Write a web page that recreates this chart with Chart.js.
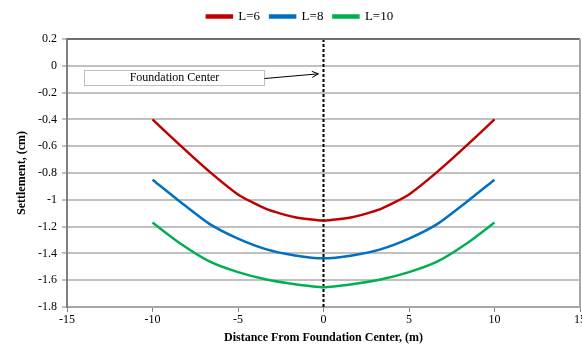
<!DOCTYPE html>
<html>
<head>
<meta charset="utf-8">
<script src="https://cdn.jsdelivr.net/npm/chart.js@4.4.0/dist/chart.umd.min.js"></script>
<style>
html,body{margin:0;padding:0;background:#fff;}
#wrap{width:582px;height:345px;}
</style>
</head>
<body>
<div id="wrap"><canvas id="c" width="582" height="345"></canvas></div>
<script>
// ---- data ----
const distances = [-10, -8.33, -6.67, -5, -3.33, -1.67, 0, 1.67, 3.33, 5, 6.67, 8.33, 10];
const settlementL6  = [-0.40, -0.60, -0.79, -0.96, -1.07, -1.13, -1.155, -1.13, -1.07, -0.96, -0.79, -0.60, -0.40];
const settlementL8  = [-0.85, -1.02, -1.18, -1.29, -1.37, -1.415, -1.437, -1.415, -1.37, -1.29, -1.18, -1.02, -0.85];
const settlementL10 = [-1.17, -1.33, -1.46, -1.54, -1.595, -1.63, -1.652, -1.63, -1.595, -1.54, -1.46, -1.33, -1.17];
const seriesNames = ['L=6', 'L=8', 'L=10'];
const centerLineX = [0, 0];
const centerLineY = [0.2, -1.8];
const annotationText = 'Foundation Center';

// ---- annotation geometry (in data units) ----
const noteBox = {x0: -13.98, x1: -3.45, y0: -0.03, y1: -0.14};
const noteArrow = {x0: -3.45, y0: -0.095, x1: -0.3, y1: -0.06};

const FONT = "'Liberation Serif', 'DejaVu Serif', serif";

function pts(xs, ys){ return xs.map((x,i)=>({x:x, y:ys[i]})); }

const annotationPlugin = {
  id: 'annot',
  afterDatasetsDraw(chart){
    const {ctx, scales:{x, y}, chartArea} = chart;
    ctx.save();
    // plot border top & right
    ctx.strokeStyle = '#6f6f6f';
    ctx.lineWidth = 2;
    ctx.beginPath();
    ctx.moveTo(chartArea.left, chartArea.top);
    ctx.lineTo(chartArea.right, chartArea.top);
    ctx.stroke();
    ctx.strokeStyle = '#a6a6a6';
    ctx.beginPath();
    ctx.moveTo(chartArea.right, chartArea.top);
    ctx.lineTo(chartArea.right, chartArea.bottom);
    ctx.stroke();
    // box
    const bx0 = x.getPixelForValue(noteBox.x0), bx1 = x.getPixelForValue(noteBox.x1);
    const by0 = y.getPixelForValue(noteBox.y0), by1 = y.getPixelForValue(noteBox.y1);
    ctx.fillStyle = '#ffffff';
    ctx.fillRect(bx0, by0, bx1-bx0, by1-by0);
    ctx.strokeStyle = '#bfbfbf';
    ctx.lineWidth = 1;
    ctx.strokeRect(Math.round(bx0)+0.5, Math.round(by0)+0.5, Math.round(bx1-bx0), Math.round(by1-by0));
    ctx.fillStyle = '#000';
    ctx.font = "12px " + FONT;
    ctx.textAlign = 'center';
    ctx.textBaseline = 'middle';
    ctx.fillText(annotationText, (bx0+bx1)/2, (by0+by1)/2 + 0.5);
    // arrow
    const ax0 = x.getPixelForValue(noteArrow.x0), ay0 = y.getPixelForValue(noteArrow.y0);
    const ax1 = x.getPixelForValue(noteArrow.x1), ay1 = y.getPixelForValue(noteArrow.y1);
    ctx.strokeStyle = '#000';
    ctx.lineWidth = 1;
    ctx.beginPath();
    ctx.moveTo(ax0, ay0);
    ctx.lineTo(ax1, ay1);
    ctx.stroke();
    const ang = Math.atan2(ay1-ay0, ax1-ax0);
    const L = 7;
    ctx.beginPath();
    ctx.moveTo(ax1 - L*Math.cos(ang - 0.45), ay1 - L*Math.sin(ang - 0.45));
    ctx.lineTo(ax1, ay1);
    ctx.lineTo(ax1 - L*Math.cos(ang + 0.45), ay1 - L*Math.sin(ang + 0.45));
    ctx.stroke();
    ctx.restore();
  }
};

const colors = ['#C00000', '#0070C0', '#00B050'];
const seriesData = [settlementL6, settlementL8, settlementL10];

const datasets = seriesData.map((vals, i) => ({
  label: seriesNames[i],
  data: pts(distances, vals),
  xAxisID: 'x',
  yAxisID: 'y',
  borderColor: colors[i],
  backgroundColor: colors[i],
  borderWidth: 2.5,
  pointRadius: 0,
  showLine: true,
  tension: 0.2,
  order: 1
}));
datasets.push({
  label: 'center',
  data: pts(centerLineX, centerLineY),
  xAxisID: 'x',
  yAxisID: 'y',
  borderColor: '#000',
  backgroundColor: '#000',
  borderWidth: 2,
  borderDash: [3, 2],
  pointRadius: 0,
  showLine: true,
  order: 2
});

new Chart(document.getElementById('c'), {
  type: 'scatter',
  data: { datasets },
  plugins: [annotationPlugin],
  options: {
    responsive: false,
    animation: false,
    layout: { padding: { left: 20, right: 2, top: 0, bottom: 0 } },
    plugins: {
      legend: {
        position: 'top',
        align: 'center',
        labels: {
          filter: (item) => item.text !== 'center',
          boxWidth: 25,
          boxHeight: 2,
          padding: 10,
          color: '#000',
          font: { family: FONT, size: 13 }
        }
      },
      tooltip: { enabled: false }
    },
    scales: {
      x: {
        type: 'linear',
        position: 'bottom',
        min: -15, max: 15,
        afterFit: (s) => { s.height = 38; s.paddingLeft = 0; s.paddingRight = 0; },
        ticks: { stepSize: 5, color: '#000', font: { family: FONT, size: 12 }, padding: 1, maxRotation: 0, autoSkip: false },
        grid: { drawOnChartArea: false, drawTicks: true, tickLength: 5, color: '#808080', lineWidth: 1 },
        border: { color: '#a6a6a6', width: 2 },
        title: { display: true, text: 'Distance From Foundation Center, (m)', color: '#000', font: { family: FONT, size: 12, weight: 'bold' }, padding: { top: 0, bottom: 0 } }
      },
      y: {
        type: 'linear',
        position: 'left',
        min: -1.8, max: 0.2,
        afterFit: (s) => { s.width = 47; s.paddingBottom = 0; },
        ticks: { stepSize: 0.2, color: '#000', font: { family: FONT, size: 12 }, padding: 5,
          callback: (v) => String(Number(v.toFixed(1))) },
        grid: { drawOnChartArea: true, drawTicks: true, tickLength: 5, color: '#c0c0c0', lineWidth: 2 },
        border: { color: '#7f7f7f', width: 2 },
        title: { display: true, text: 'Settlement, (cm)', color: '#000', font: { family: FONT, size: 12, weight: 'bold' }, padding: { top: -5, bottom: 0 } }
      },
      spacer: {
        type: 'linear',
        axis: 'x',
        position: 'top',
        display: true,
        min: 0, max: 1,
        afterFit: (s) => { s.height = 6; s.paddingLeft = 0; s.paddingRight = 0; },
        ticks: { display: false },
        grid: { display: false, drawTicks: false },
        border: { display: false }
      }
    }
  }
});
</script>
</body>
</html>
